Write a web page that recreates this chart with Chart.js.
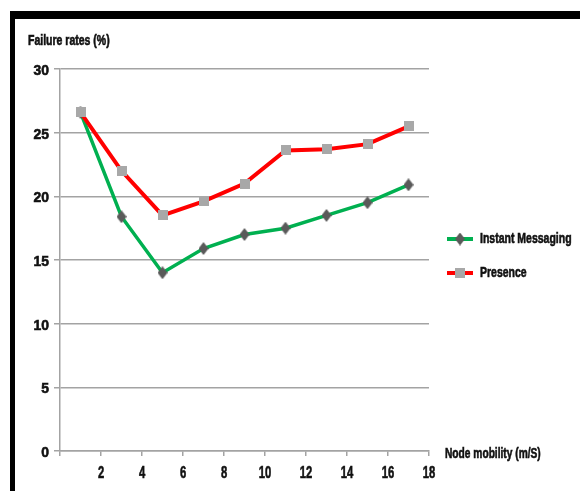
<!DOCTYPE html>
<html>
<head>
<meta charset="utf-8">
<script src="https://cdn.jsdelivr.net/npm/chart.js@4/dist/chart.umd.min.js"></script>
<style>
  html, body { margin: 0; padding: 0; background: #fff; }
  #wrap { position: relative; width: 580px; height: 491px; overflow: hidden; }
  #frame { position: absolute; left: 10px; top: 11px; width: 575px; height: 476px;
           border-top: 8px solid #000; border-left: 5px solid #000; border-bottom: 2px solid #e2e2e2; }
  #c { position: absolute; left: 0; top: 0; }
</style>
</head>
<body>
<div id="wrap">
  <div id="frame"></div>
  <canvas id="c" width="580" height="491"></canvas>
</div>
<script>
// Node mobility (m/s) at which each failure rate was measured
const speeds = [1, 3, 5, 7, 9, 11, 13, 15, 17];
// Failure rates (%) per service
const instantMessaging = [26.6, 18.4, 14.0, 15.9, 17.0, 17.5, 18.5, 19.5, 20.9];
const presence = [26.6, 22.0, 18.5, 19.6, 21.0, 23.6, 23.7, 24.1, 25.5];
const seriesNames = ['Instant Messaging', 'Presence'];
const xTickValues = [2, 4, 6, 8, 10, 12, 14, 16, 18];
const yTickValues = [0, 5, 10, 15, 20, 25, 30];

const FONT = "'Liberation Sans', Arial, sans-serif";
const GRID = '#a3a3a3';
const TEXT = '#111';

const toPoints = (vals) => speeds.map((s, i) => ({ x: s, y: vals[i] }));

// Tall dark diamond marker
function makeDiamond(w, h, color) {
  const c = document.createElement('canvas');
  c.width = w; c.height = h;
  const g = c.getContext('2d');
  g.fillStyle = color;
  g.beginPath();
  g.moveTo(w / 2, 0); g.lineTo(w, h / 2); g.lineTo(w / 2, h); g.lineTo(0, h / 2);
  g.closePath(); g.fill();
  return c;
}
// Grey square marker
function makeSquare(s, color) {
  const c = document.createElement('canvas');
  c.width = s; c.height = s;
  const g = c.getContext('2d');
  g.fillStyle = color;
  g.fillRect(0, 0, s, s);
  return c;
}
const diamond = makeDiamond(10, 13, '#5a5a5a');
const square = makeSquare(10, '#a8a8a8');

// Condensed heavy text: drawn with a horizontal squeeze and a thin outline
function narrowText(ctx, text, x, y, size, sx, align) {
  ctx.save();
  ctx.font = 'bold ' + size + 'px ' + FONT;
  ctx.textBaseline = 'middle';
  ctx.textAlign = align || 'left';
  ctx.translate(x, y);
  ctx.scale(sx, 1);
  ctx.fillStyle = TEXT;
  ctx.strokeStyle = TEXT;
  ctx.lineWidth = 0.6;
  ctx.fillText(text, 0, 0);
  ctx.strokeText(text, 0, 0);
  ctx.restore();
}

// Tick labels, axis titles and legend
const annotations = {
  id: 'annotations',
  afterDraw(chart) {
    const ctx = chart.ctx;
    const area = chart.chartArea;
    const xs = chart.scales.x, ys = chart.scales.y;
    ctx.save();

    yTickValues.forEach((v) => {
      narrowText(ctx, String(v), area.left - 11, ys.getPixelForValue(v) + 2, 15, 0.93, 'right');
    });
    xTickValues.forEach((v) => {
      narrowText(ctx, String(v), xs.getPixelForValue(v), area.bottom + 22, 17, 0.66, 'center');
    });

    narrowText(ctx, 'Failure rates (%)', 28, 41, 14, 0.75);
    narrowText(ctx, 'Node mobility (m/S)', area.right + 16, area.bottom + 3, 15, 0.68);

    const lx = area.right + 18;
    const items = [chart.data.datasets[1], chart.data.datasets[0]];
    items.forEach((ds, i) => {
      const y = 239 + i * 34;
      ctx.strokeStyle = ds.borderColor;
      ctx.lineWidth = 4;
      ctx.beginPath();
      ctx.moveTo(lx, y);
      ctx.lineTo(lx + 26, y);
      ctx.stroke();
      const img = ds.pointStyle;
      ctx.drawImage(img, lx + 13 - img.width / 2, y - img.height / 2);
      narrowText(ctx, ds.label, lx + 33, y, 15, 0.7);
    });
    ctx.restore();
  }
};

new Chart(document.getElementById('c'), {
  type: 'line',
  data: {
    datasets: [
      {
        label: seriesNames[1],
        data: toPoints(presence),
        borderColor: '#ff0000',
        borderWidth: 4,
        pointStyle: square,
        pointRadius: 6,
        tension: 0
      },
      {
        label: seriesNames[0],
        data: toPoints(instantMessaging),
        borderColor: '#00b050',
        borderWidth: 3.5,
        pointStyle: diamond,
        pointRadius: 6,
        tension: 0
      }
    ]
  },
  options: {
    responsive: false,
    animation: false,
    events: [],
    layout: { padding: { left: 0, top: 69, right: 151, bottom: 0 } },
    plugins: { legend: { display: false }, tooltip: { enabled: false } },
    scales: {
      x: {
        type: 'linear',
        min: 0,
        max: 18,
        ticks: { stepSize: 2, display: false },
        grid: { drawOnChartArea: false, color: GRID, lineWidth: 1.5, tickLength: 5 },
        border: { color: GRID, width: 1.5 },
        afterFit: (s) => { s.height = 40; }
      },
      y: {
        min: 0,
        max: 30,
        ticks: { stepSize: 5, display: false },
        grid: { color: GRID, lineWidth: 1.5, tickLength: 6 },
        border: { color: GRID, width: 1.5 },
        afterFit: (s) => { s.width = 60; }
      }
    }
  },
  plugins: [annotations]
});
</script>
</body>
</html>
